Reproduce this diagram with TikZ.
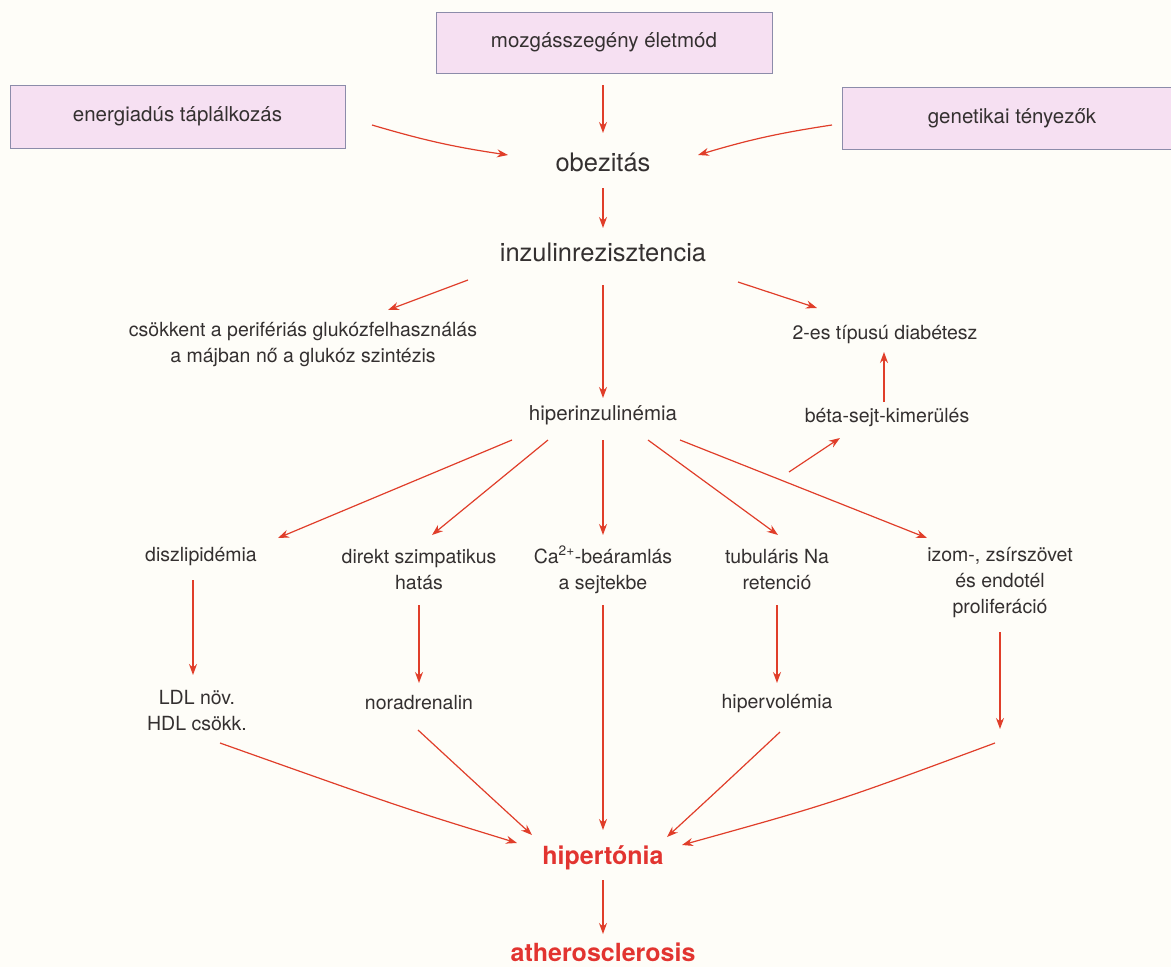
\documentclass[tikz,border=0pt]{standalone}
\usepackage{fontspec}
\setmainfont{TeX Gyre Heros}
\usetikzlibrary{arrows.meta,calc}
\definecolor{arrred}{RGB}{224,62,42}
\definecolor{txtgray}{RGB}{52,48,48}
\definecolor{hired}{RGB}{226,52,48}
\definecolor{boxfill}{RGB}{246,224,242}
\definecolor{boxline}{RGB}{140,140,170}
\definecolor{bgcol}{RGB}{254,253,248}
\tikzset{
  arr/.style={draw=arrred, line width=1.2pt, -{Stealth[length=11pt,width=8pt]}},
  lbl/.style={text=txtgray, inner sep=0pt, align=center, font=\fontsize{19.5}{26}\selectfont},
  big/.style={text=txtgray, inner sep=0pt, align=center, font=\fontsize{25.5}{30}\selectfont},
  hot/.style={text=hired, inner sep=0pt, align=center, font=\fontsize{25}{30}\selectfont\bfseries},
  topbox/.style={draw=boxline, line width=0.9pt, fill=boxfill, inner sep=0pt, text=txtgray,
     font=\fontsize{20.5}{24}\selectfont, align=center}
}
\begin{document}
\begin{tikzpicture}[x=1pt,y=-1pt]
\useasboundingbox (0,0) rectangle (1171,967);
\fill[bgcol] (0,0) rectangle (1171,967);
% top boxes
\node[topbox, minimum width=336pt, minimum height=61pt] (mozg) at (604,42.5) {mozgásszegény életmód};
\node[topbox, minimum width=335pt, minimum height=63pt] (energ) at (177.5,116.5) {energiadús táplálkozás};
\node[topbox, minimum width=340pt, minimum height=62pt] (genet) at (1012,118) {genetikai tényezők};
% main chain
\node[big] (obez) at (603,162) {obezitás};
\node[big] (inzul) at (603,252) {inzulinrezisztencia};
\node[lbl] (csokk) at (303,344) {csökkent a perifériás glukózfelhasználás\\a májban nő a glukóz szintézis};
\node[lbl, font=\fontsize{20.5}{26}\selectfont] (hiper) at (603,415) {hiperinzulinémia};
\node[lbl] (diab) at (885,335) {2-es típusú diabétesz};
\node[lbl] (beta) at (887,418) {béta-sejt-kimerülés};
% branches
\node[lbl] (diszl) at (201,557) {diszlipidémia};
\node[lbl] (direkt) at (419,570) {direkt szimpatikus\\hatás};
\node[lbl] (ca) at (603,570) {Ca\textsuperscript{2+}-beáramlás\\a sejtekbe};
\node[lbl] (tub) at (777,570) {tubuláris Na\\retenció};
\node[lbl] (izom) at (1000,583) {izom-, zsírszövet\\és endotél\\proliferáció};
\node[lbl] (ldl) at (197,711) {LDL növ.\\HDL csökk.};
\node[lbl] (norad) at (419,703) {noradrenalin};
\node[lbl] (hiperv) at (777,704) {hipervolémia};
\node[hot] (hipert) at (603,858) {hipertónia};
\node[hot] (ather) at (603,952) {atherosclerosis};
\coordinate (izomend) at (1000,729);
\coordinate (izomstart) at (995,743);
% arrows top
\draw[arr] ([shift={(-1,42.5)}]mozg.center) -- ([shift={(0,-29)}]obez.center);
\draw[arr] ([shift={(194.5,8.5)}]energ.center) to[bend right=4] ([shift={(-95,-7)}]obez.center);
\draw[arr] ([shift={(-180,7)}]genet.center) to[bend right=4] ([shift={(95,-7)}]obez.center);
\draw[arr] ([shift={(0,26)}]obez.center) -- ([shift={(0,-24)}]inzul.center);
\draw[arr] ([shift={(-135,28)}]inzul.center) -- ([shift={(85,-34)}]csokk.center);
\draw[arr] ([shift={(0,33)}]inzul.center) -- ([shift={(0,-17)}]hiper.center);
\draw[arr] ([shift={(135,30)}]inzul.center) -- ([shift={(-68,-27)}]diab.center);
\draw[arr] ([shift={(-3,-16)}]beta.center) -- ([shift={(-1,17)}]diab.center);
\draw[arr] ([shift={(186,57)}]hiper.center) -- ([shift={(-47,20)}]beta.center);
% fan from hiperinzulinemia
\draw[arr] ([shift={(-91,25)}]hiper.center) -- ([shift={(77,-19)}]diszl.center);
\draw[arr] ([shift={(-55,25)}]hiper.center) -- ([shift={(13,-35)}]direkt.center);
\draw[arr] ([shift={(0,25)}]hiper.center) -- ([shift={(0,-35)}]ca.center);
\draw[arr] ([shift={(45,25)}]hiper.center) -- ([shift={(1,-35)}]tub.center);
\draw[arr] ([shift={(77,25)}]hiper.center) -- ([shift={(-73,-45)}]izom.center);
% second level
\draw[arr] ([shift={(-8,23)}]diszl.center) -- ([shift={(-4,-36)}]ldl.center);
\draw[arr] ([shift={(0,35)}]direkt.center) -- ([shift={(0,-20)}]norad.center);
\draw[arr] ([shift={(0,35)}]tub.center) -- ([shift={(0,-21)}]hiperv.center);
\draw[arr] ([shift={(0,49)}]izom.center) -- (izomend);
% to hypertonia
\draw[arr] ([shift={(0,35)}]ca.center) -- ([shift={(0,-28)}]hipert.center);
\draw[arr] ([shift={(23,32)}]ldl.center) .. controls ([shift={(-200,-50)}]hipert.center) .. ([shift={(-86,-15)}]hipert.center);
\draw[arr] ([shift={(-1,27)}]norad.center) .. controls ([shift={(-120,-68)}]hipert.center) .. ([shift={(-71,-23)}]hipert.center);
\draw[arr] ([shift={(3,28)}]hiperv.center) .. controls ([shift={(115,-68)}]hipert.center) .. ([shift={(64,-21)}]hipert.center);
\draw[arr] (izomstart) .. controls ([shift={(230,-55)}]hipert.center) .. ([shift={(79,-13)}]hipert.center);
\draw[arr] ([shift={(0,22)}]hipert.center) -- ([shift={(0,-18)}]ather.center);
\end{tikzpicture}
\end{document}
